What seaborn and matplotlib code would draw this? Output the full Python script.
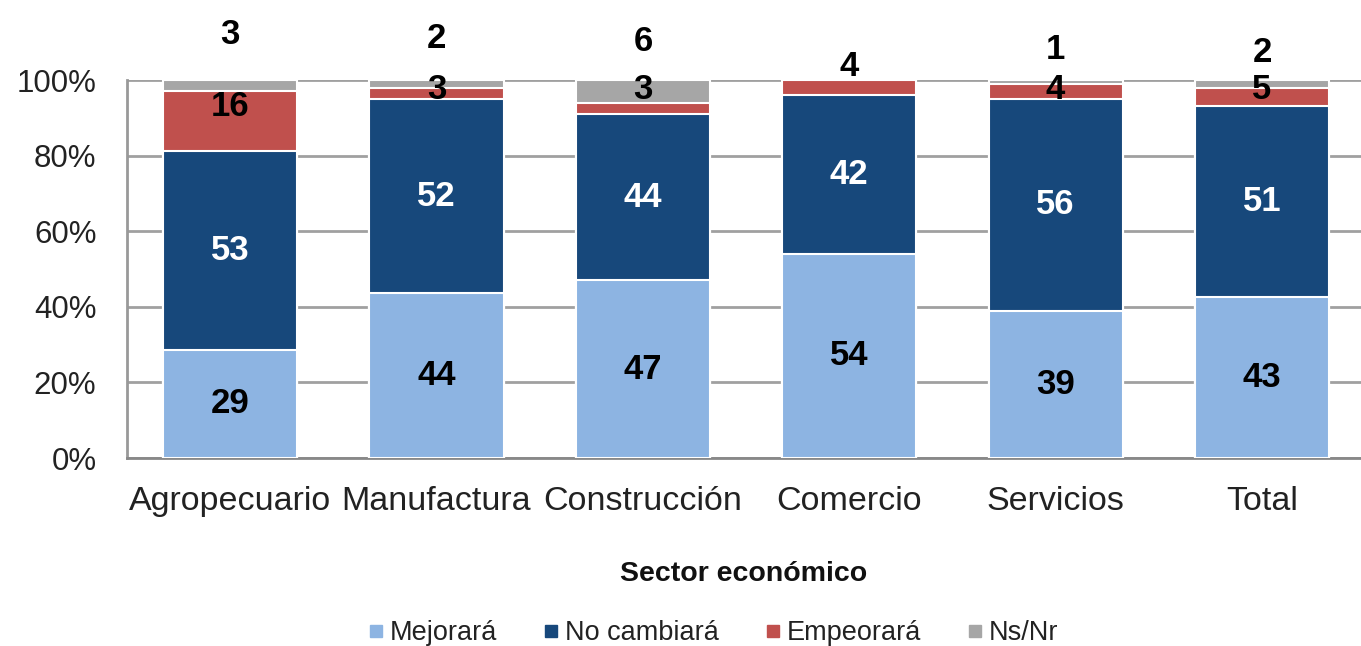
import numpy as np
import pandas as pd
import matplotlib
matplotlib.use("Agg")
import matplotlib.pyplot as plt
import seaborn as sns
from matplotlib import font_manager
from matplotlib.lines import Line2D

# =========================================================
# Data (percent of firms, by sector)
# =========================================================
sectors = ["Agropecuario", "Manufactura", "Construcción", "Comercio", "Servicios", "Total"]
mejorara = [29, 44, 47, 54, 39, 43]
no_cambiara = [53, 52, 44, 42, 56, 51]
empeorara = [16, 3, 3, 4, 4, 5]
ns_nr = [3, 2, 6, 0, 1, 2]

series_names = ["Mejorará", "No cambiará", "Empeorará", "Ns/Nr"]
colors = ["#8DB4E2", "#17487B", "#C0504D", "#A6A6A6"]
text_colors = ["black", "white", "black", "black"]

# =========================================================
# Build a 100% stacked table
# =========================================================
raw = pd.DataFrame(
    {name: vals for name, vals in zip(series_names, [mejorara, no_cambiara, empeorara, ns_nr])},
    index=sectors,
)
share = raw.div(raw.sum(axis=1), axis=0) * 100
cum = share.cumsum(axis=1)

sns.set_theme(style="white")
plt.rcParams["font.family"] = ["Liberation Sans", "DejaVu Sans"]

# narrow face for the value labels, if present
installed = {f.name for f in font_manager.fontManager.ttflist}
if "Liberation Sans Narrow" in installed:
    label_font = dict(family="Liberation Sans Narrow", fontsize=28)
else:
    label_font = dict(family="Liberation Sans", fontsize=25)

fig = plt.figure(figsize=(13.61, 6.46), dpi=100)
ax = fig.add_axes([0.0933, 0.291, 0.9067, 0.585])

# draw from the top of the stack down so each layer covers the previous one
for name, color in reversed(list(zip(series_names, colors))):
    sns.barplot(x=sectors, y=cum[name].values, color=color, width=0.65, saturation=1,
                edgecolor="white", linewidth=1.5, ax=ax, zorder=3)

# labels inside the two big segments
for i, sector in enumerate(sectors):
    for k, name in enumerate(series_names[:2]):
        bottom = cum[name].iloc[i] - share[name].iloc[i]
        mid = bottom + share[name].iloc[i] / 2
        ax.text(i, mid, f"{raw[name].iloc[i]}", ha="center", va="center",
                fontweight="bold", color=text_colors[k], zorder=5, **label_font)

    # Empeorará label
    seg = share["Empeorará"].iloc[i]
    mid = cum["Empeorará"].iloc[i] - seg / 2
    if ns_nr[i] == 0:
        y_red = 103.7
    elif seg > 8:
        y_red = mid + 4
    else:
        y_red = 97.5
    ax.text(i, y_red, f"{empeorara[i]}", ha="center", va="center",
            fontweight="bold", color="black", zorder=5, clip_on=False, **label_font)

    # Ns/Nr label above the bar
    if ns_nr[i] > 0:
        ax.text(i, 112.0 - 0.95 * i, f"{ns_nr[i]}", ha="center", va="center",
                fontweight="bold", color="black", zorder=5, clip_on=False, **label_font)

# =========================================================
# Axes styling
# =========================================================
ax.set_xlim(-0.5, 5.48)
ax.set_ylim(0, 100)
ax.set_yticks(range(0, 101, 20))
ax.set_yticklabels([f"{v}%" for v in range(0, 101, 20)], fontsize=22.5, color="#222222")
ax.tick_params(axis="x", labelsize=24.5, labelcolor="#222222", pad=14)
ax.tick_params(axis="y", pad=22, length=0)
ax.yaxis.grid(True, color="#A0A0A0", linewidth=2)
ax.set_axisbelow(True)
for side in ["top", "right"]:
    ax.spines[side].set_visible(False)
ax.spines["left"].set_color("#999999")
ax.spines["left"].set_linewidth(2)
ax.spines["bottom"].set_color("#888888")
ax.spines["bottom"].set_linewidth(2)
ax.set_ylabel("")
ax.set_xlabel("Sector económico", fontsize=20.5, fontweight="bold", labelpad=32, color="#111111")

handles = [Line2D([0], [0], marker="s", linestyle="", markersize=9,
                  markerfacecolor=c, markeredgecolor=c) for c in colors]
fig.legend(handles, series_names, loc="center", bbox_to_anchor=(0.523, 0.02),
           ncol=4, frameon=False, fontsize=19.5, handletextpad=0.1,
           columnspacing=1.6, handlelength=0.8, labelcolor="#222222")

fig.savefig("out.png", dpi=100)
